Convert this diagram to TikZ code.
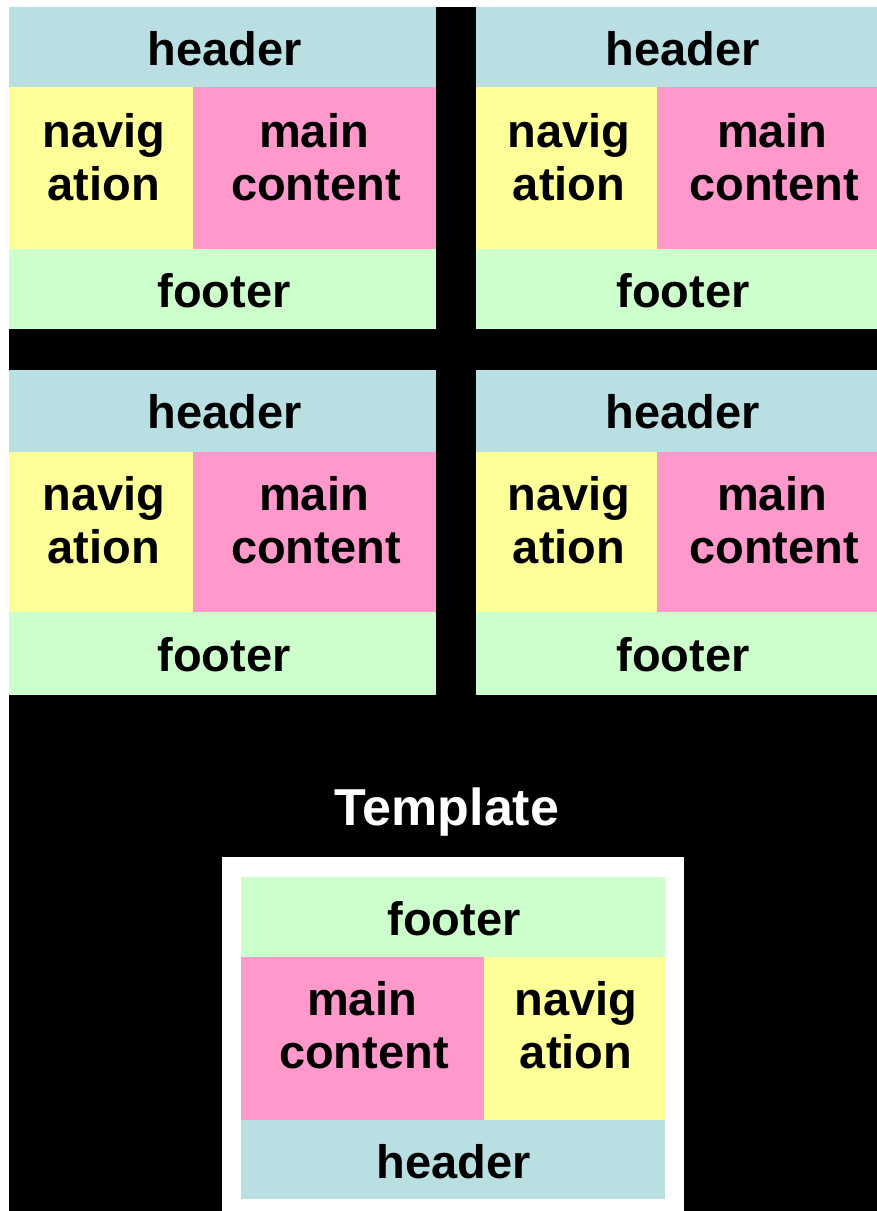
\documentclass[tikz,border=0pt]{standalone}
\usepackage{fontspec}
\setmainfont{Liberation Sans}
\definecolor{hdr}{RGB}{185,223,227}
\definecolor{nav}{RGB}{255,255,153}
\definecolor{mainc}{RGB}{255,153,204}
\definecolor{ftr}{RGB}{204,255,204}
\tikzset{
  lbl/.style={anchor=base, inner sep=0pt, font=\fontsize{47}{52}\selectfont\bfseries, text=black},
  ttl/.style={anchor=base, inner sep=0pt, font=\fontsize{52}{58}\selectfont\bfseries, text=white}
}
\begin{document}
\begin{tikzpicture}[x=1pt,y=-1pt]
\useasboundingbox (0,0) rectangle (877,1211);
\fill[white] (0,0) rectangle (877,1211);
\fill[black] (9,7) rectangle (877,1211);
% ---- panel top-left
\fill[hdr] (9,7) rectangle (436,87);
\fill[nav] (9,87) rectangle (193,249);
\fill[mainc] (193,87) rectangle (436,249);
\fill[ftr] (9,249) rectangle (436,329);
\node[lbl] (h1) at (225,65) {header};
\node[lbl] (n1a) at (104,147) {navig};
\node[lbl] (n1b) at (104,200) {ation};
\node[lbl] (m1a) at (314,147) {main};
\node[lbl] (m1b) at (316,200) {content};
\node[lbl] (f1) at (224,307) {footer};
% ---- panel top-right
\fill[hdr] (476,7) rectangle (877,87);
\fill[nav] (476,87) rectangle (657,249);
\fill[mainc] (657,87) rectangle (877,249);
\fill[ftr] (476,249) rectangle (877,329);
\node[lbl] (h2) at (683,65) {header};
\node[lbl] (n2a) at (569,147) {navig};
\node[lbl] (n2b) at (569,200) {ation};
\node[lbl] (m2a) at (772,147) {main};
\node[lbl] (m2b) at (774,200) {content};
\node[lbl] (f2) at (683,307) {footer};
% ---- panel bottom-left
\fill[hdr] (9,370) rectangle (436,452);
\fill[nav] (9,452) rectangle (193,612);
\fill[mainc] (193,452) rectangle (436,612);
\fill[ftr] (9,612) rectangle (436,695);
\node[lbl] (h3) at (225,428) {header};
\node[lbl] (n3a) at (104,510) {navig};
\node[lbl] (n3b) at (104,563) {ation};
\node[lbl] (m3a) at (314,510) {main};
\node[lbl] (m3b) at (316,563) {content};
\node[lbl] (f3) at (224,671) {footer};
% ---- panel bottom-right
\fill[hdr] (476,370) rectangle (877,452);
\fill[nav] (476,452) rectangle (657,612);
\fill[mainc] (657,452) rectangle (877,612);
\fill[ftr] (476,612) rectangle (877,695);
\node[lbl] (h4) at (683,428) {header};
\node[lbl] (n4a) at (569,510) {navig};
\node[lbl] (n4b) at (569,563) {ation};
\node[lbl] (m4a) at (772,510) {main};
\node[lbl] (m4b) at (774,563) {content};
\node[lbl] (f4) at (683,671) {footer};
% ---- template
\node[ttl] (tt) at (447,825) {Template};
\fill[white] (222,857) rectangle (684,1215);
\fill[ftr] (241,877) rectangle (665,957);
\fill[mainc] (241,957) rectangle (484,1120);
\fill[nav] (484,957) rectangle (665,1120);
\fill[hdr] (241,1120) rectangle (665,1199);
\node[lbl] (f5) at (454,935) {footer};
\node[lbl] (m5a) at (362,1015) {main};
\node[lbl] (m5b) at (364,1068) {content};
\node[lbl] (n5a) at (576,1015) {navig};
\node[lbl] (n5b) at (576,1068) {ation};
\node[lbl] (h5) at (454,1178) {header};
\end{tikzpicture}
\end{document}
